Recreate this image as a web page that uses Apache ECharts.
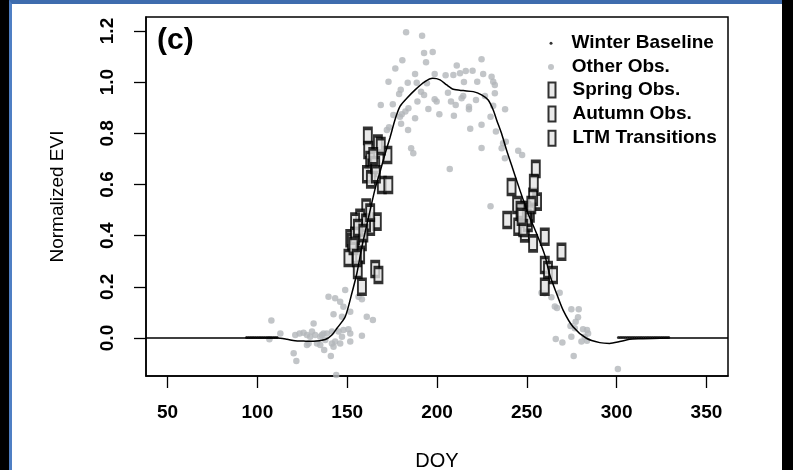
<!DOCTYPE html>
<html>
<head>
<meta charset="utf-8">
<title>Normalized EVI vs DOY</title>
<script src="https://cdn.jsdelivr.net/npm/echarts@6/dist/echarts.min.js"></script>
<style>
  html, body { margin: 0; padding: 0; background: #000; }
  .frame {
    position: absolute; left: 9px; top: 0; width: 773px; height: 470px;
    background: #fff; box-sizing: border-box;
    border-top: 4px solid #3e6cae; border-left: 3px solid #4f7fc4;
  }
  #chart { position: absolute; left: 0; top: 0; width: 793px; height: 470px; }
</style>
</head>
<body>
<div class="frame"></div>
<div id="chart"></div>
<script>
// tick values
const xTicks = [50, 100, 150, 200, 250, 300, 350]
const yTicks = [0, 0.2, 0.4, 0.6, 0.8, 1.0, 1.2]

// fitted curve
const fitDoy = [38, 60, 80, 100, 111, 116.5, 121, 125.7, 131.3, 137.8, 141.5, 144.3, 148.9, 152.6, 155.4, 158.2, 162.8, 165.6, 168.3, 171.1, 173.9, 176.7, 179.4, 183.2, 187.8, 193.3, 197.6, 201.7, 205.4, 209.1, 214.6, 220.2, 224.8, 228.5, 231.3, 233.2, 235.9, 238.7, 242.4, 246.1, 250.7, 255.4, 260, 262.8, 266.5, 270.2, 275.7, 283.2, 290.6, 296.1, 301.7, 307.2, 312.8, 330, 362]
const fitEvi = [0, 0, 0, 0, 0, -0.005, -0.011, -0.012, -0.013, -0.006, 0.012, 0.038, 0.083, 0.175, 0.253, 0.357, 0.5, 0.585, 0.65, 0.72, 0.785, 0.855, 0.905, 0.937, 0.97, 1.002, 1.015, 1.009, 0.989, 0.972, 0.967, 0.963, 0.95, 0.93, 0.891, 0.852, 0.8, 0.735, 0.657, 0.579, 0.487, 0.409, 0.324, 0.246, 0.175, 0.109, 0.044, -0.001, -0.018, -0.021, -0.014, -0.005, -0.003, 0, 0]

// winter baseline
const winterDoy = [94, 95, 96, 97, 98, 99, 100, 101, 102, 103, 104, 105, 106, 107, 108, 109, 110, 111,
  301, 302, 303, 304, 305, 306, 307, 308, 309, 310, 311, 312, 313, 314, 315, 316, 317, 318, 319, 320, 321, 322, 323, 324, 325, 326, 327, 328, 329]
const winterEvi = [0.002, 0.002, 0.002, 0.002, 0.002, 0.002, 0.002, 0.002, 0.002, 0.002, 0.002, 0.002, 0.002, 0.002, 0.002, 0.002, 0.002, 0.002,
  0.002, 0.002, 0.002, 0.002, 0.002, 0.002, 0.002, 0.002, 0.002, 0.002, 0.002, 0.002, 0.002, 0.002, 0.002, 0.002, 0.002, 0.002, 0.002, 0.002, 0.002, 0.002, 0.002, 0.002, 0.002, 0.002, 0.002, 0.002, 0.002]

// other observations
const otherDoy = [182.8, 191.7, 192.8, 197.6, 180.7, 193.9, 176.8, 224.8, 187.8, 198.7, 211.0, 173.0, 183.7, 188.7, 194.4, 204.8, 209.1, 216.0, 219.8, 212.8, 215.0, 222.4, 225.7, 230.4, 231.3, 232.2, 179.8, 178.9, 191.1, 192.8, 206.1, 198.7, 199.8, 189.1, 207.8, 210.4, 213.7, 214.6, 221.7, 226.7, 232.2, 168.7, 175.4, 184.1, 182.4, 195.2, 217.8, 217.8, 237.9, 175.7, 180.4, 179.4, 187.8, 201.3, 209.4, 229.8, 180.0, 183.9, 173.3, 172.1, 218.5, 224.8, 232.8, 238.3, 236.8, 185.6, 186.8, 224.8, 236.0, 245.2, 247.4, 237.8, 207.1, 229.8, 231.3,
  107.8, 112.8, 106.7, 121.1, 123.5, 125.7, 127.6, 130.4, 131.3, 132.2, 135.0, 136.8, 138.7, 141.5, 139.6, 143.3, 142.4, 127.6, 128.5, 133.2, 135.0, 137.2, 141.5, 142.4, 140.9, 120.2, 121.7, 146.1, 148.9, 147.9, 151.7, 147.1, 158.2, 156.3, 160.9, 164.3, 129.4, 135.9, 137.8, 145.2, 147.9, 150.7, 151.7, 147.1, 143.3, 146.1, 151.7, 158.2, 143.9,
  258.2, 260.0, 263.7, 268.3, 265.6, 266.8, 274.8, 278.9, 278.5, 277.2, 274.3, 276.7, 281.3, 283.5, 284.1, 282.2, 280.4, 283.5, 274.8, 266.1, 269.8, 276.1, 300.7]
const otherEvi = [1.195, 1.181, 1.114, 1.118, 1.086, 1.078, 1.053, 1.09, 1.032, 1.032, 1.065, 1.002, 0.998, 0.998, 0.996, 1.027, 1.028, 1.044, 1.045, 1.035, 1.001, 1.002, 1.032, 1.021, 1.002, 0.989, 0.97, 0.954, 0.963, 0.95, 0.959, 0.933, 0.924, 0.924, 0.924, 0.911, 0.937, 0.946, 0.93, 0.946, 0.957, 0.911, 0.914, 0.898, 0.885, 0.895, 0.904, 0.894, 0.894, 0.872, 0.875, 0.865, 0.859, 0.875, 0.869, 0.865, 0.837, 0.813, 0.824, 0.813, 0.818, 0.834, 0.807, 0.767, 0.761, 0.742, 0.722, 0.743, 0.742, 0.732, 0.715, 0.703, 0.661, 0.515, 0.908,
  0.068, 0.018, -0.005, 0.012, 0.018, 0.021, 0.012, 0.025, 0.057, 0.012, 0.005, 0.018, 0.018, 0.025, 0.161, 0.155, 0.093, -0.027, -0.021, -0.021, -0.027, -0.047, -0.021, -0.034, -0.07, -0.06, -0.09, 0.142, 0.188, 0.122, 0.103, 0.083, 0.151, 0.161, 0.083, 0.07, 0.005, 0.012, -0.008, 0.025, 0.031, 0.034, 0.018, 0.005, -0.014, -0.021, -0.014, 0.009, -0.145,
  0.177, 0.175, 0.159, 0.177, 0.123, 0.117, 0.112, 0.112, 0.081, 0.064, 0.047, 0.038, 0.034, 0.031, 0.018, 0.005, -0.014, -0.011, 0.005, -0.004, -0.018, -0.07, -0.121]

// spring / autumn / LTM
const springDoy = [161.5, 167.1, 172.4, 168.7, 161.7, 162.8, 163.9, 161.0, 163.2, 165.6, 169.3, 172.9, 160.6, 157.2, 154.4, 166.5, 162.8, 151.7, 152.6, 158.2, 154.4, 150.7, 157.2, 155.9, 165.6, 167.4, 158.2,
  164.5, 166.0, 160.5, 156.0, 153.5, 159.0]
const springEvi = [0.79, 0.76, 0.715, 0.75, 0.735, 0.696, 0.665, 0.64, 0.62, 0.676, 0.598, 0.598, 0.51, 0.47, 0.455, 0.455, 0.435, 0.39, 0.375, 0.375, 0.4, 0.313, 0.325, 0.266, 0.27, 0.246, 0.2,
  0.71, 0.64, 0.45, 0.43, 0.36, 0.41]
const autumnDoy = [255.0, 255.7, 253.5, 241.5, 244.6, 249.8, 251.7, 239.1, 245.2, 248.9, 253.5, 260.0, 269.3, 260.0, 261.8, 264.6, 260.0, 247.2, 250.6,
  246.5, 250.0, 248.0, 252.5]
const autumnEvi = [0.661, 0.533, 0.552, 0.59, 0.52, 0.5, 0.487, 0.461, 0.435, 0.409, 0.37, 0.396, 0.337, 0.285, 0.266, 0.246, 0.2, 0.49, 0.45,
  0.5, 0.47, 0.43, 0.52]
const ltmDoy = [155.4, 162.8, 247.1, 253.9]
const ltmEvi = [0.313, 0.49, 0.474, 0.606]

function pairs(xs, ys) {
  return xs.map((x, i) => [x, ys[i]])
}

const font = 'Liberation Sans, Arial, sans-serif'
const boxStyle = { color: '#e4e4e4', borderColor: '#000', borderWidth: 2.6 }
const legendText = { fontFamily: font, fontSize: 19, fontWeight: 'bold', color: '#000' }

const chart = echarts.init(document.getElementById('chart'))
chart.setOption({
  backgroundColor: 'transparent',
  animation: false,
  title: {
    text: '(c)', left: 152, top: 21,
    textStyle: { fontFamily: font, fontSize: 30, fontWeight: 'bold', color: '#000' }
  },
  legend: [
    {
      data: [{ name: 'Winter Baseline', icon: 'circle' }],
      left: 549.5, top: 33.7, padding: 0, itemWidth: 3, itemHeight: 3,
      textStyle: Object.assign({ padding: [0, 0, 0, 14] }, legendText)
    },
    {
      data: [{ name: 'Other Obs.', icon: 'circle' }],
      left: 548, top: 57.5, padding: 0, itemWidth: 6, itemHeight: 6,
      textStyle: Object.assign({ padding: [0, 0, 0, 12.7] }, legendText)
    },
    {
      data: [{ name: 'Spring Obs.', icon: 'rect' }, { name: 'Autumn Obs.', icon: 'rect' }, { name: 'LTM Transitions', icon: 'rect' }],
      orient: 'vertical', left: 547.5, top: 80.5, padding: 0, itemWidth: 7, itemHeight: 15, itemGap: 5.1,
      textStyle: Object.assign({ padding: [0, 0, 0, 12] }, legendText)
    }
  ],
  grid: {
    left: 146, top: 17, width: 582, height: 359,
    outerBoundsMode: 'none', containLabel: false,
    show: true, borderColor: '#000', borderWidth: 1.5, backgroundColor: 'transparent'
  },
  xAxis: {
    type: 'value', min: 38, max: 362,
    name: 'DOY', nameLocation: 'middle', nameGap: 75,
    nameTextStyle: { fontFamily: font, fontSize: 20, color: '#000' },
    axisLine: { show: true, onZero: false, lineStyle: { color: '#000', width: 1.5 } },
    splitLine: { show: false },
    axisTick: { show: true, inside: false, length: 12, customValues: xTicks, lineStyle: { color: '#000', width: 1.3 } },
    axisLabel: { customValues: xTicks, margin: 27, fontFamily: font, fontSize: 19, fontWeight: 'bold', color: '#000' }
  },
  yAxis: {
    type: 'value', min: -0.1485, max: 1.2547,
    name: 'Normalized EVI', nameLocation: 'middle', nameGap: 79, nameRotate: 90,
    nameTextStyle: { fontFamily: font, fontSize: 19, color: '#000' },
    axisLine: { show: true, onZero: false, lineStyle: { color: '#000', width: 1.5 } },
    splitLine: { show: false },
    axisTick: { show: true, inside: false, length: 12, customValues: yTicks, lineStyle: { color: '#000', width: 1.3 } },
    axisLabel: {
      customValues: yTicks, rotate: 90, margin: 29,
      fontFamily: font, fontSize: 19, fontWeight: 'bold', color: '#000',
      formatter: v => v.toFixed(1)
    }
  },
  series: [
    {
      name: 'Other Obs.', type: 'scatter', symbol: 'circle', symbolSize: 6.5,
      itemStyle: { color: '#b3b6ba' },
      data: pairs(otherDoy, otherEvi)
    },
    {
      name: 'Fit', type: 'line', showSymbol: false, smooth: 0.25,
      lineStyle: { color: '#000', width: 1.5 },
      data: pairs(fitDoy, fitEvi)
    },
    {
      name: 'Winter Baseline', type: 'scatter', symbol: 'circle', symbolSize: 3,
      itemStyle: { color: '#000' },
      data: pairs(winterDoy, winterEvi)
    },
    {
      name: 'Spring Obs.', type: 'scatter', symbol: 'rect', symbolSize: [8, 15],
      itemStyle: boxStyle,
      data: pairs(springDoy, springEvi)
    },
    {
      name: 'Autumn Obs.', type: 'scatter', symbol: 'rect', symbolSize: [8, 15],
      itemStyle: boxStyle,
      data: pairs(autumnDoy, autumnEvi)
    },
    {
      name: 'LTM Transitions', type: 'scatter', symbol: 'rect', symbolSize: [8, 15],
      itemStyle: boxStyle,
      data: pairs(ltmDoy, ltmEvi)
    }
  ]
})
</script>
</body>
</html>
